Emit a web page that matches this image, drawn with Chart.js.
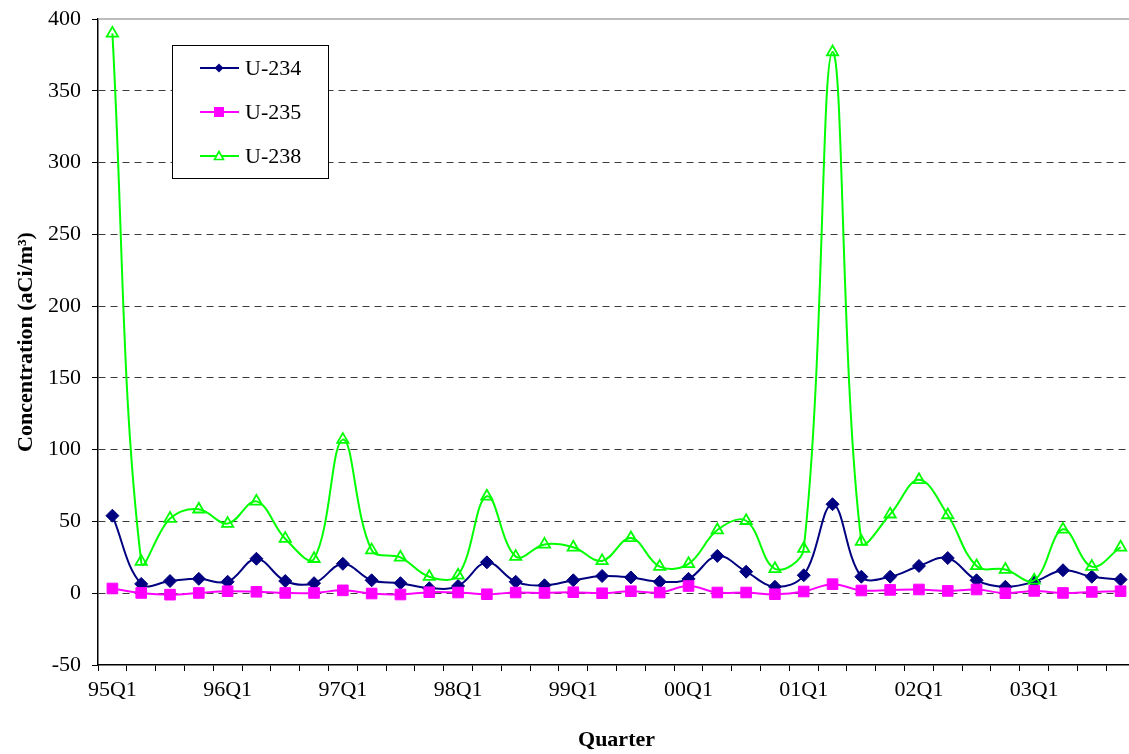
<!DOCTYPE html>
<html>
<head>
<meta charset="utf-8">
<script src="https://cdn.jsdelivr.net/npm/chart.js@4/dist/chart.umd.min.js"></script>
<style>
  html, body { margin: 0; padding: 0; background: #fff; overflow: hidden; }
  /* plot area runs a few px past the right edge, as in the original */
  #wrap { width: 1135px; height: 754px; }
</style>
</head>
<body>
<div id="wrap"><canvas id="myChart"></canvas></div>
<script>
const quarters = [
    '95Q1', '95Q2', '95Q3', '95Q4', '96Q1', '96Q2', '96Q3', '96Q4',
    '97Q1', '97Q2', '97Q3', '97Q4', '98Q1', '98Q2', '98Q3', '98Q4',
    '99Q1', '99Q2', '99Q3', '99Q4', '00Q1', '00Q2', '00Q3', '00Q4',
    '01Q1', '01Q2', '01Q3', '01Q4', '02Q1', '02Q2', '02Q3', '02Q4',
    '03Q1', '03Q2', '03Q3', '03Q4'
];
const u234 = [54, 6.5, 8.5, 10, 8, 24, 8.5, 7, 20.5, 9, 7, 3.5, 5, 21.5, 8, 5.5,
    9, 12, 11, 8, 10, 26, 15, 4.5, 12.5, 62, 11.5, 11.5, 19, 24.5, 9, 4.5, 8, 16, 11.5, 9.5];
const u235 = [3.3, 0.2, -1, 0.2, 1.4, 1, 0.2, 0.2, 2, -0.2, -0.9, 0.7, 0.5, -0.7, 0.5, 0.2,
    0.7, 0, 1.4, 0.5, 5, 0.5, 0.5, -0.7, 1.2, 6.3, 1.9, 2.3, 2.6, 1.6, 2.6, 0, 1.6, 0.2, 0.9, 1.4];
const u238 = [390, 22, 52, 58.5, 48.5, 64, 38, 24, 107, 30, 25, 11.5, 12.5, 67.5, 25.5, 34,
    32, 22.5, 38.5, 18.5, 20.5, 44, 50.5, 17, 31, 377, 36, 55, 79, 54.5, 19, 16.5, 9, 44.5, 18.5, 32];
const yMin = -50;
const yMax = 400;
const yStep = 50;

const FONT = "'Liberation Serif', 'Times New Roman', serif";
const NAVY = '#000080';
const MAGENTA = '#FF00FF';
const LIME = '#00FF00';

const series = [
    { label: 'U-234', data: u234, color: NAVY, style: 'rectRot', radius: 6.5, fill: true, order: 3 },
    { label: 'U-235', data: u235, color: MAGENTA, style: 'rect', radius: 7.5, fill: true, order: 2 },
    { label: 'U-238', data: u238, color: LIME, style: 'triangle', radius: 6.5, fill: false, order: 1 },
];

// legend drawn inside the plot, boxed like the original
const boxLegend = {
    id: 'boxLegend',
    afterDraw(chart) {
        const { ctx, chartArea } = chart;
        const x0 = chartArea.left + 74, y0 = chartArea.top + 26;
        ctx.save();
        // plot top border (solid grey)
        ctx.strokeStyle = '#a6a6a6';
        ctx.lineWidth = 1.5;
        ctx.beginPath();
        ctx.moveTo(chartArea.left, chartArea.top);
        ctx.lineTo(chartArea.right, chartArea.top);
        ctx.stroke();

        ctx.fillStyle = '#fff';
        ctx.fillRect(x0, y0, 156, 133);
        ctx.strokeStyle = '#000';
        ctx.lineWidth = 1;
        ctx.strokeRect(x0 + 0.5, y0 + 0.5, 156, 133);
        series.forEach((s, i) => {
            const cy = y0 + 23 + i * 44;
            ctx.strokeStyle = s.color;
            ctx.lineWidth = 2;
            ctx.beginPath();
            ctx.moveTo(x0 + 28, cy);
            ctx.lineTo(x0 + 67, cy);
            ctx.stroke();
            const mx = x0 + 47;
            ctx.beginPath();
            if (s.style === 'rectRot') {
                ctx.moveTo(mx, cy - 4.5); ctx.lineTo(mx + 4.5, cy);
                ctx.lineTo(mx, cy + 4.5); ctx.lineTo(mx - 4.5, cy);
                ctx.closePath();
                ctx.fillStyle = s.color; ctx.fill();
            } else if (s.style === 'rect') {
                ctx.rect(mx - 5, cy - 5, 10, 10);
                ctx.fillStyle = s.color; ctx.fill();
            } else {
                ctx.moveTo(mx, cy - 4.5); ctx.lineTo(mx + 4.5, cy + 3.5);
                ctx.lineTo(mx - 4.5, cy + 3.5); ctx.closePath();
                ctx.fillStyle = '#fff'; ctx.fill();
                ctx.lineWidth = 1.6; ctx.stroke();
            }
            ctx.fillStyle = '#000';
            ctx.font = '22px ' + FONT;
            ctx.textAlign = 'left';
            ctx.textBaseline = 'middle';
            ctx.fillText(s.label, x0 + 73, cy + 1);
        });
        ctx.restore();
    }
};

const ctx = document.getElementById('myChart');
const myChart = new Chart(ctx, {
    type: 'line',
    data: {
        labels: quarters,
        datasets: series.map(s => ({
            label: s.label,
            data: s.data,
            borderColor: s.color,
            backgroundColor: s.fill ? s.color : 'rgba(0,0,0,0)',
            pointBackgroundColor: s.fill ? s.color : 'rgba(0,0,0,0)',
            pointBorderColor: s.color,
            pointBorderWidth: s.fill ? 1 : 1.8,
            pointStyle: s.style,
            pointRadius: s.radius,
            borderWidth: 2,
            tension: 0.38,
            fill: false,
            order: s.order,
        })),
    },
    options: {
        responsive: true,
        maintainAspectRatio: false,
        animation: false,
        layout: {
            autoPadding: false,
            padding: { top: 19, right: 0, bottom: 0, left: 0 },
        },
        plugins: {
            legend: { display: false },
            title: { display: false },
            tooltip: { enabled: false },
        },
        scales: {
            x: {
                type: 'category',
                offset: true,
                afterFit: (scale) => { scale.height = 89; scale.paddingRight = 0; },
                grid: {
                    offset: true,
                    drawOnChartArea: false,
                    tickLength: 6,
                    tickColor: '#000',
                    tickWidth: 1,
                },
                border: { color: '#000', width: 1.5 },
                ticks: {
                    autoSkip: false,
                    maxRotation: 0,
                    padding: 6,
                    color: '#000',
                    font: { family: FONT, size: 22 },
                    callback: (v, i) => quarters[i].endsWith('Q1') ? quarters[i] : '',
                },
                title: {
                    display: true,
                    text: 'Quarter',
                    color: '#000',
                    font: { family: FONT, size: 22, weight: 'bold' },
                    padding: { top: 0, bottom: 0 },
                },
            },
            y: {
                min: yMin,
                max: yMax,
                afterFit: (scale) => { scale.width = 98; scale.paddingTop = 0; scale.paddingBottom = 0; },
                grid: {
                    color: (c) => (c.tick && (c.tick.value === yMax || c.tick.value === yMin)) ? 'rgba(0,0,0,0)' : '#3c3c3c',
                    lineWidth: 1,
                    tickLength: 6,
                    tickColor: '#000',
                    tickWidth: 1,
                    tickBorderDash: [],
                },
                border: { color: '#000', width: 1.5, dash: [7, 5] },
                ticks: {
                    stepSize: yStep,
                    padding: 11,
                    color: '#000',
                    font: { family: FONT, size: 22 },
                },
                title: {
                    display: true,
                    text: 'Concentration (aCi/m³)',
                    color: '#000',
                    font: { family: FONT, size: 22, weight: 'bold' },
                    padding: { top: 13, bottom: 0 },
                },
            },
        },
    },
    plugins: [boxLegend],
});
</script>
</body>
</html>
